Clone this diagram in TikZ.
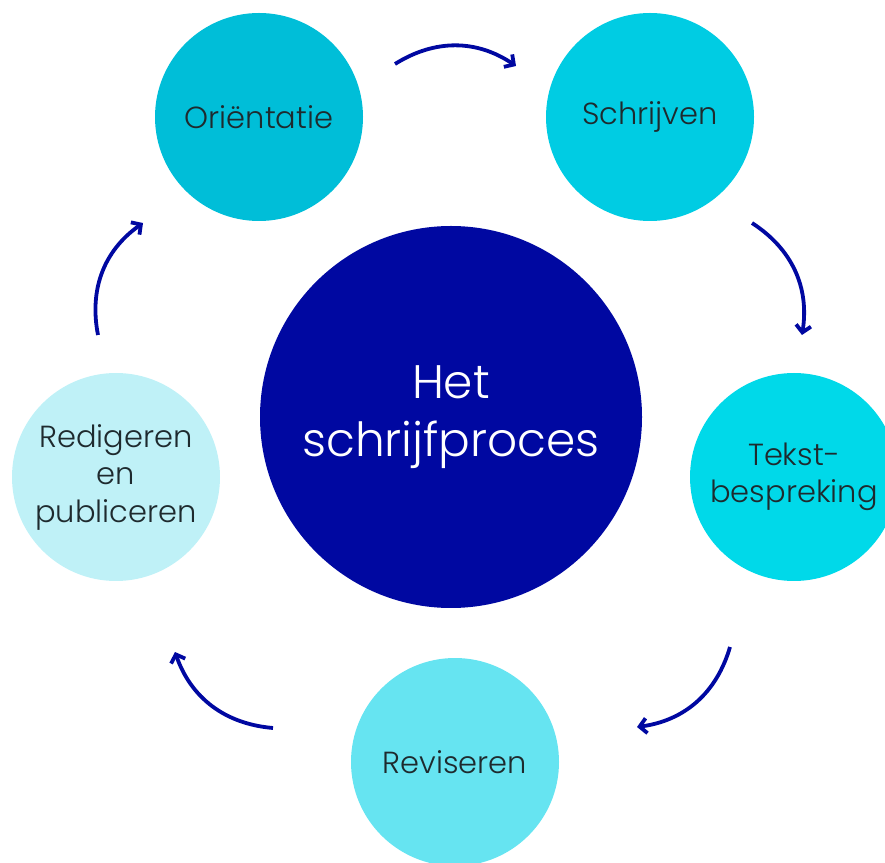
\documentclass[tikz,border=0pt]{standalone}
\usepackage{fontspec}
\setmainfont{Poppins}[UprightFont=* Light]
\usetikzlibrary{arrows.meta}
\definecolor{cO}{HTML}{00BED8}
\definecolor{cS}{HTML}{00CCE3}
\definecolor{cT}{HTML}{00D9E9}
\definecolor{cR}{HTML}{66E4F1}
\definecolor{cRd}{HTML}{BFF1F7}
\definecolor{navy}{HTML}{0008A1}
\definecolor{txt}{HTML}{1E2A2E}
\begin{document}
\begin{tikzpicture}[x=1pt,y=1pt,
  stage/.style={circle,minimum size=208pt,inner sep=0pt,text=txt,align=center,
    font=\fontsize{30.5}{37.5}\selectfont},
  flow/.style={draw=navy,line width=3.8pt,line cap=butt,
    -{Straight Barb[length=7pt,width=15pt]}}]
\clip (0,0) rectangle (885,862);
\node[stage,fill=cO]  (o)  at (259,745) {Oriëntatie};
\node[stage,fill=cS]  (s)  at (650,745) {Schrijven};
\node[stage,fill=cT]  (t)  at (794,385) {Tekst-\\bespreking};
\node[stage,fill=cR]  (r)  at (455,100) {Reviseren};
\node[stage,fill=cRd] (rd) at (116,385) {Redigeren\\en\\publiceren};
\node[circle,minimum size=382pt,inner sep=0pt,fill=navy,text=white,align=center,
  font=\fontsize{47}{58}\selectfont] (c) at (451,445) {Het\\schrijfproces};
\coordinate (a1s) at (395,798); \coordinate (a1e) at (516,796);
\coordinate (a2s) at (752,639); \coordinate (a2e) at (802,527);
\coordinate (a3s) at (730,215); \coordinate (a3e) at (637,135);
\coordinate (a4s) at (273,134); \coordinate (a4e) at (175,210);
\coordinate (a5s) at (98,527);  \coordinate (a5e) at (143,639);
\draw[flow] (a1s) to[bend left=33] (a1e);
\draw[flow] (a2s) to[bend left=33] (a2e);
\draw[flow] (a3s) to[bend left=33] (a3e);
\draw[flow] (a4s) to[bend left=33] (a4e);
\draw[flow] (a5s) to[bend left=33] (a5e);
\end{tikzpicture}
\end{document}
